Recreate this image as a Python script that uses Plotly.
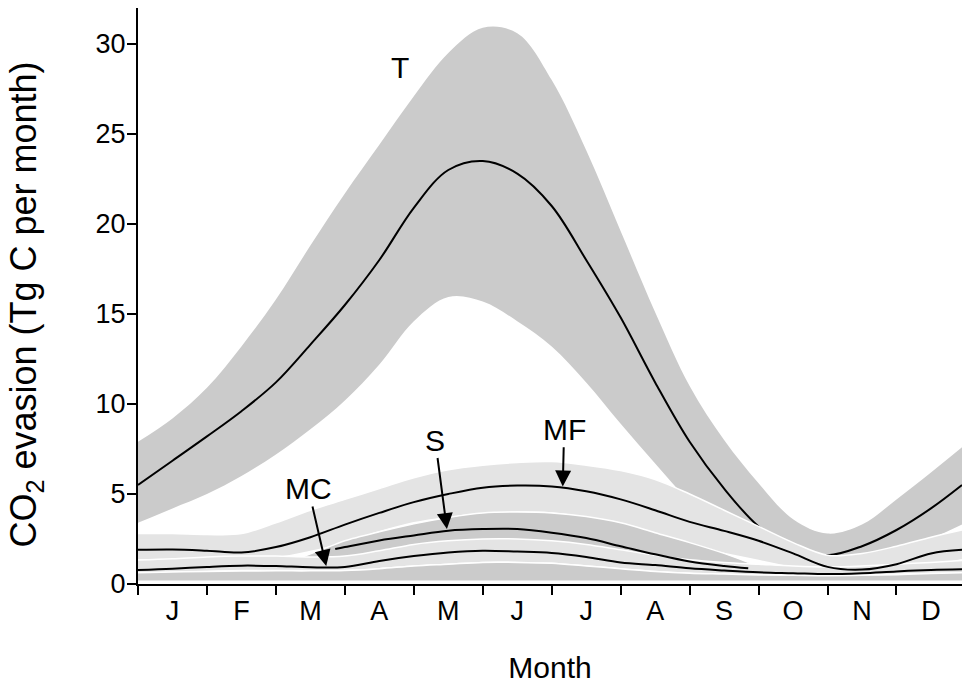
import plotly.graph_objects as go

# ---------------- data (months: 0 = start of January) ----------------
MONTHS = ["J", "F", "M", "A", "M", "J", "J", "A", "S", "O", "N", "D"]
MONTH_CENTRES = [0.5 + i for i in range(12)]

X = [0, 0.5, 1, 1.5, 2, 2.5, 3, 3.5, 4, 4.5, 5, 5.5, 6, 6.5, 7, 7.5, 8, 8.5,
     9, 9.5, 10, 10.5, 11, 11.5, 11.95]

# T
T_mean = [5.5, 6.85, 8.2, 9.6, 11.2, 13.3, 15.5, 18.0, 20.9, 23.0, 23.5, 22.8,
          21.0, 18.0, 14.8, 11.2, 7.9, 5.3, 3.2, 2.0, 1.6, 2.1, 3.0, 4.2, 5.5]
T_high = [7.9, 9.2, 10.9, 13.2, 15.8, 18.8, 21.7, 24.4, 27.1, 29.5, 30.9, 30.6,
          28.0, 24.1, 19.6, 15.1, 11.0, 8.0, 5.6, 3.6, 2.8, 3.3, 4.7, 6.2, 7.6]
T_low = [3.4, 4.2, 5.0, 6.0, 7.2, 8.6, 10.2, 12.2, 14.6, 15.95, 15.7, 14.6,
         13.2, 11.2, 8.9, 6.7, 4.6, 3.0, 1.9, 1.2, 0.9, 1.1, 1.7, 2.5, 3.3]

# MF
MF_mean = [1.9, 1.92, 1.85, 1.75, 2.05, 2.6, 3.3, 3.95, 4.55, 5.0, 5.35, 5.47,
           5.42, 5.15, 4.7, 4.1, 3.45, 2.95, 2.4, 1.7, 0.95, 0.8, 1.1, 1.7, 1.9]
MF_high = [2.8, 2.8, 2.75, 2.8, 3.4, 4.1, 4.7, 5.3, 5.9, 6.35, 6.6, 6.75,
           6.8, 6.6, 6.3, 5.8, 5.0, 4.1, 3.2, 2.3, 1.6, 1.7, 2.1, 2.6, 3.0]
MF_low = [1.35, 1.35, 1.35, 1.35, 1.45, 1.8, 2.3, 2.9, 3.4, 3.7, 3.9, 4.0,
          3.95, 3.7, 3.3, 2.7, 2.1, 1.7, 1.3, 0.9, 0.5, 0.4, 0.6, 1.0, 1.35]

# S
XS = [2.35, 2.86, 3, 3.5, 4, 4.5, 5, 5.5, 6, 6.5, 7, 7.5, 8, 8.5, 8.85]
S_mean = [None, 1.94, 2.05, 2.42, 2.7, 2.96, 3.05, 3.05, 2.85, 2.55, 2.1,
          1.65, 1.25, 1.0, 0.87]
S_high = [1.45, 2.2, 2.4, 2.9, 3.35, 3.7, 3.95, 4.0, 3.95, 3.75, 3.4, 2.85,
          2.3, 1.7, 1.2]
S_low = [1.4, 1.5, 1.5, 1.7, 2.0, 2.3, 2.4, 2.45, 2.35, 2.1, 1.8, 1.4,
         1.1, 0.9, 0.8]

# MC
MC_mean = [0.78, 0.85, 0.95, 1.02, 1.0, 0.93, 0.95, 1.28, 1.55, 1.75, 1.85,
           1.8, 1.72, 1.5, 1.2, 1.05, 0.87, 0.75, 0.65, 0.6, 0.55, 0.6, 0.7,
           0.78, 0.82]
MC_high = [1.33, 1.4, 1.5, 1.55, 1.55, 1.5, 1.55, 1.85, 2.2, 2.4, 2.5, 2.5,
           2.4, 2.2, 1.9, 1.6, 1.35, 1.2, 1.1, 1.0, 0.95, 1.0, 1.1, 1.2, 1.3]
MC_low = [0.6, 0.65, 0.7, 0.75, 0.75, 0.75, 0.75, 0.85, 1.0, 1.1, 1.2, 1.2,
          1.15, 1.0, 0.85, 0.7, 0.6, 0.55, 0.5, 0.5, 0.5, 0.5, 0.55, 0.6, 0.6]
# lower range (dark strip along the bottom)
LOW_high = [0.62, 0.66, 0.7, 0.72, 0.73, 0.73, 0.75, 0.85, 1.0, 1.1, 1.2, 1.2,
            1.15, 1.0, 0.85, 0.7, 0.6, 0.55, 0.5, 0.48, 0.46, 0.48, 0.52, 0.58,
            0.62]
LOW_low = [0.15] * 25

Y_TICKS = [0, 5, 10, 15, 20, 25, 30]
Y_TITLE = "CO<sub>2</sub> evasion (Tg C per month)"
X_TITLE = "Month"

# ---------------- figure ----------------
FONT = "Liberation Sans, Arial, Helvetica, sans-serif"
DARK = "#cbcbcb"
LIGHT = "#e4e4e4"
fig = go.Figure()


def band(x, low, high, color, edge="white", w=1.5):
    fig.add_trace(go.Scatter(x=x, y=low, mode="lines",
                             line=dict(color=edge, width=w, shape="spline"),
                             hoverinfo="skip", showlegend=False))
    fig.add_trace(go.Scatter(x=x, y=high, mode="lines", fill="tonexty", fillcolor=color,
                             line=dict(color=edge, width=w, shape="spline"),
                             hoverinfo="skip", showlegend=False))


def mean_line(x, y):
    fig.add_trace(go.Scatter(x=x, y=y, mode="lines", connectgaps=False,
                             line=dict(color="black", width=2, shape="spline"),
                             showlegend=False))


band(X, T_low, T_high, DARK, edge=DARK, w=0)
mean_line(X, T_mean)
band(X, MF_low, MF_high, LIGHT)
band(XS, S_low, S_high, DARK)
band(X, MC_low, MC_high, LIGHT)
band(X, LOW_low, LOW_high, DARK)
mean_line(X, MF_mean)
mean_line(XS, S_mean)
mean_line(X, MC_mean)

ann_font = dict(family=FONT, size=30, color="black")
fig.add_annotation(x=3.8, y=28.7, text="T", showarrow=False, font=ann_font)
for label, tx, ty, hx, hy in [("MC", 2.47, 5.3, 2.73, 1.0),
                              ("S", 4.31, 8.0, 4.48, 3.05),
                              ("MF", 6.18, 8.6, 6.16, 5.42)]:
    fig.add_annotation(x=hx, y=hy, ax=tx, ay=ty, axref="x", ayref="y", text=label,
                       showarrow=True, arrowhead=2, arrowsize=1.6, arrowwidth=2,
                       arrowcolor="black", standoff=0, startstandoff=0, font=ann_font)

# y-axis title (rotated)
fig.add_annotation(xref="paper", yref="paper", x=-0.136, y=0.485, text=Y_TITLE,
                   textangle=-90, showarrow=False, xanchor="center", yanchor="middle",
                   font=dict(family=FONT, size=36, color="black"))

fig.update_layout(
    width=962, height=684,
    margin=dict(l=138, r=0, t=8, b=100, autoexpand=False),
    paper_bgcolor="white", plot_bgcolor="white",
    font=dict(family=FONT, color="black"),
    showlegend=False,
    xaxis=dict(range=[0, 11.95], tickvals=MONTH_CENTRES, ticktext=MONTHS,
               ticks="outside", ticklen=2, tickcolor="rgba(0,0,0,0)",
               minor=dict(ticks="outside", ticklen=9, tickwidth=2, tickcolor="black",
                          tick0=0, dtick=1),
               showline=True, linecolor="black", linewidth=2, showgrid=False,
               zeroline=False, tickfont=dict(size=27), automargin=False,
               title=dict(text=X_TITLE, font=dict(size=30), standoff=41)),
    yaxis=dict(range=[0, 32], tickvals=Y_TICKS, ticks="outside", ticklen=9,
               tickwidth=2, tickcolor="black", showline=True, linecolor="black",
               linewidth=2, showgrid=False, zeroline=False, tickfont=dict(size=27),
               ticklabelstandoff=-4, automargin=False),
)

fig.write_html("out.html", config={"displayModeBar": False},
               post_script="document.body.style.margin='0';")
